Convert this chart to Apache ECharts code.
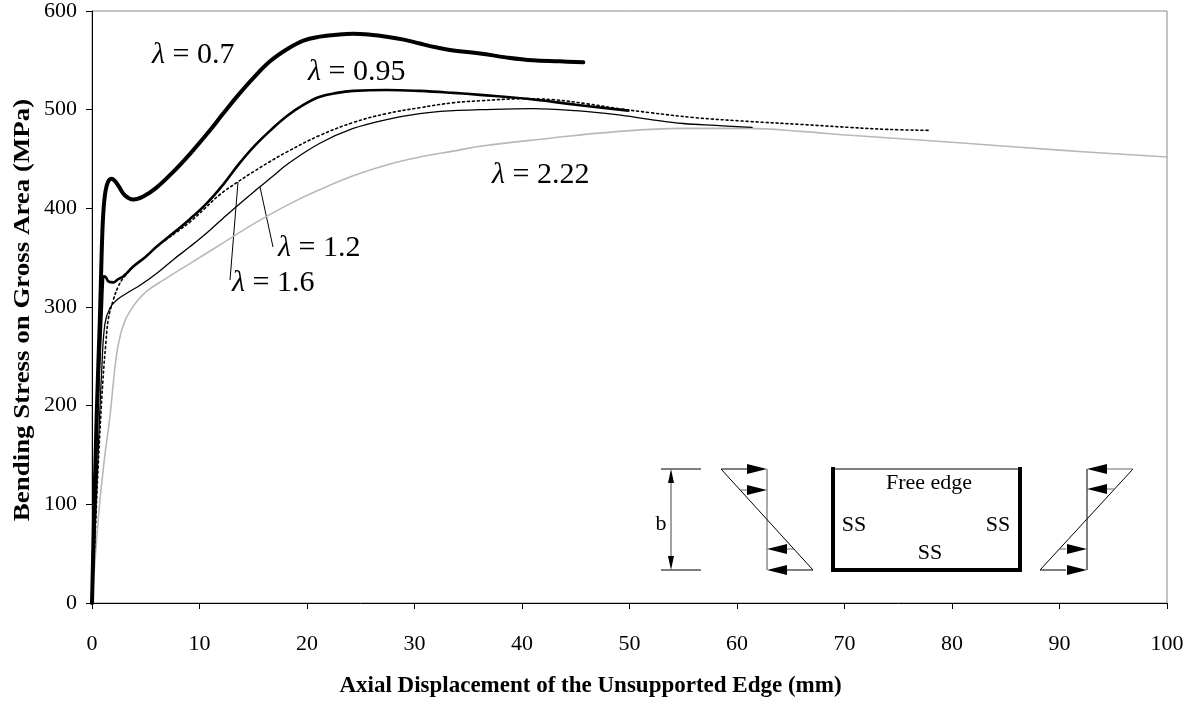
<!DOCTYPE html>
<html>
<head>
<meta charset="utf-8">
<title>Bending Stress vs Axial Displacement</title>
<script src="https://cdn.jsdelivr.net/npm/echarts@6.0.0/dist/echarts.min.js"></script>
<style>
    html, body { margin: 0; padding: 0; background: #fff; }
    #chart { width: 1196px; height: 705px; }
</style>
</head>
<body>
<div id="chart"></div>
<script>
// curve data: [displacement (mm), stress (MPa)]
var lambda070 = [[0,0],[0.43,188],[0.74,290],[0.9,355],[1.05,395],[1.25,417],[1.5,427],[1.83,430],[2.1,428],[2.45,423],[3.07,413],[3.84,409],[4.77,412],[6,421],[7.56,437],[9.1,455],[10.67,475],[12.2,496],[13.46,513],[15,532],[16.56,549],[18.1,561],[19.66,570],[21.2,574],[22.76,576],[24.3,577],[25.9,576],[27.4,574],[29,571],[30.5,567],[32.1,563],[33.6,560],[36.1,557],[38.5,553],[41,550],[43.5,549],[45.7,548]];
var lambda095 = [[0,0],[0.28,122],[0.6,225],[0.9,295],[1.0,322],[1.1,331],[1.3,330],[1.52,326],[1.98,325],[2.4,328],[2.9,331],[3.84,341],[5,351],[6,361],[7.56,375],[9.1,389],[10.67,405],[12.2,424],[13.6,444],[15.1,463],[16.7,480],[18.2,494],[19.7,505],[21.2,513],[22.8,517],[24.3,519],[27.4,520],[30.5,519],[33.6,517],[36.1,515],[40.5,511],[45,505],[49.9,499]];
var lambda120 = [[0,0],[0.3,75],[0.6,160],[0.9,235],[1.2,283],[1.67,299],[2.3,307],[3.23,314],[4.47,322],[6,334],[7.56,348],[9.1,361],[10.67,375],[12.2,390],[13.77,405],[15.3,419],[16.87,433],[18.2,445],[21.2,466],[24.3,481],[27.4,490],[30.5,496],[33.6,499],[36.1,500],[41,501],[45,499],[48.8,495],[52,490],[55,486],[58,484],[61.4,482]];
var lambda160 = [[0,0],[0.3,70],[0.57,138],[1.0,223],[1.3,265],[1.52,288],[1.98,307],[2.45,321],[2.9,329],[3.84,341],[5,351],[6,361],[7,369],[8,377],[9.1,386],[10.5,400],[11.9,414],[13.46,426],[15,437],[16.5,447],[18.1,457],[21.2,474],[24.3,487],[27.4,496],[30.5,502],[33.6,507],[36.1,509],[40,511],[43,510],[46,506],[49,501],[51.9,497],[56,492],[61.2,488],[66,485],[70.5,482],[74,480],[78,479]];
var lambda222 = [[0,0],[0.4,60],[0.74,104],[1.2,150],[1.67,189],[2.0,225],[2.3,253],[2.7,274],[3.1,287],[3.5,295],[4.2,306],[5.1,316],[6.6,327],[9.1,344],[12.2,365],[15.3,386],[18.3,404],[21.2,419],[24.3,433],[27.4,444],[30.5,452],[33.6,458],[36.1,463],[42.6,471],[48,477],[55,481],[61,481],[66,478],[70.5,474],[80,467],[90,459],[100,452]];

var xTicks = [0, 10, 20, 30, 40, 50, 60, 70, 80, 90, 100];
var yTicks = [0, 100, 200, 300, 400, 500, 600];

var serif = '"Liberation Serif", "Times New Roman", serif';

var chart = echarts.init(document.getElementById('chart'), null, {renderer: 'canvas'});

function makeSeries(name, data, color, width, type) {
    return {
        name: name,
        type: 'line',
        data: data,
        symbol: 'none',
        smooth: 0.4,
        clip: true,
        lineStyle: {color: color, width: width, type: type || 'solid', cap: 'round', join: 'round'},
        emphasis: {disabled: true}
    };
}

// small helpers for the inset sketch
function line(x1, y1, x2, y2, w, c) {
    return {
        type: 'line', silent: true,
        shape: {x1: x1, y1: y1, x2: x2, y2: y2},
        style: {stroke: c || '#000', lineWidth: w || 1}
    };
}
function arrowH(tipX, y, dir, len, half) {
    // dir: 1 = points right, -1 = points left
    len = len || 20; half = half || 5;
    return {
        type: 'polygon', silent: true,
        shape: {points: [[tipX, y], [tipX - dir * len, y - half], [tipX - dir * len, y + half]]},
        style: {fill: '#000'}
    };
}
function arrowV(x, tipY, dir, len, half) {
    // dir: 1 = points down, -1 = points up
    len = len || 14; half = half || 3;
    return {
        type: 'polygon', silent: true,
        shape: {points: [[x, tipY], [x - half, tipY - dir * len], [x + half, tipY - dir * len]]},
        style: {fill: '#000'}
    };
}
function label(x, y, txt, size, align) {
    return {
        type: 'text', silent: true, x: x, y: y,
        style: {
            text: txt, fill: '#000', font: size + 'px ' + serif,
            align: align || 'center', verticalAlign: 'middle'
        }
    };
}
function lamLabel(x, y, val) {
    return {
        type: 'text', silent: true, x: x, y: y,
        style: {
            text: '{l|λ} = ' + val,
            fill: '#000', fontFamily: serif, fontSize: 30,
            align: 'left', verticalAlign: 'middle',
            rich: {l: {fontStyle: 'italic', fontFamily: serif, fontSize: 30, fill: '#000'}}
        }
    };
}

var sketch = [
    // dimension b
    line(661, 469, 701, 469), line(661, 570, 701, 570),
    line(671, 482, 671, 557, 1, '#444'),
    arrowV(671, 469, -1), arrowV(671, 570, 1),
    label(661, 524, 'b', 22),
    // left stress block
    line(767, 469, 767, 570, 1, '#555'),
    line(721, 469, 813, 570),
    line(721, 469, 747, 469), arrowH(767, 469, 1),
    line(740, 490, 747, 490, 1, '#666'), arrowH(767, 490, 1),
    line(787, 549, 794, 549, 1, '#666'), arrowH(767, 549, -1),
    line(787, 570, 813, 570), arrowH(767, 570, -1),
    // plate
    line(833, 469, 1020, 469, 1),
    line(833, 467, 833, 572, 4), line(1020, 467, 1020, 572, 4),
    line(831, 570, 1022, 570, 4),
    label(929, 483, 'Free edge', 22),
    label(854, 525, 'SS', 22), label(998, 525, 'SS', 22), label(930, 553, 'SS', 22),
    // right stress block
    line(1087, 469, 1087, 570),
    line(1133, 469, 1040, 570),
    line(1107, 469, 1133, 469, 1, '#666'), arrowH(1087, 469, -1),
    line(1107, 489, 1114, 489, 1, '#666'), arrowH(1087, 489, -1),
    line(1059, 549, 1066, 549, 1, '#666'), arrowH(1087, 549, 1),
    line(1040, 570, 1066, 570), arrowH(1087, 570, 1)
];

var labels = [
    lamLabel(152, 55, '0.7'),
    lamLabel(308, 72, '0.95'),
    lamLabel(278, 248, '1.2'),
    lamLabel(232, 283, '1.6'),
    lamLabel(492, 175, '2.22'),
    // leader lines
    line(273, 247, 260, 187, 1),
    line(230, 280, 238, 182, 1),
    // y axis title, drawn as text so it can be stretched along its length like the original
    {
        type: 'text', silent: true, x: 23, y: 310,
        rotation: Math.PI / 2, scaleX: 1.17,
        style: {
            text: 'Bending Stress on Gross Area (MPa)',
            fill: '#000', font: 'bold 23px ' + serif,
            align: 'center', verticalAlign: 'middle'
        }
    }
];

var option = {
    animation: false,
    backgroundColor: '#fff',
    grid: {
        left: 92, right: 29, top: 11, bottom: 102,
        show: true, borderColor: '#8a8a8a', borderWidth: 1
    },
    xAxis: {
        type: 'value',
        min: xTicks[0], max: xTicks[xTicks.length - 1], interval: 10,
        name: 'Axial Displacement of the Unsupported Edge (mm)',
        nameLocation: 'middle', nameGap: 72,
        nameTextStyle: {fontFamily: serif, fontWeight: 'bold', fontSize: 23, color: '#000', padding: [0, 78, 0, 0]},
        axisLine: {lineStyle: {color: '#000', width: 1}},
        axisTick: {show: true, inside: false, length: 6, lineStyle: {color: '#000'}},
        axisLabel: {fontFamily: serif, fontSize: 22, color: '#000', margin: 30},
        splitLine: {show: false}
    },
    yAxis: {
        type: 'value',
        min: yTicks[0], max: yTicks[yTicks.length - 1], interval: 100,
        axisLine: {show: true, lineStyle: {color: '#000', width: 1}},
        axisTick: {show: true, inside: false, length: 6, lineStyle: {color: '#000'}},
        axisLabel: {fontFamily: serif, fontSize: 22, color: '#000', margin: 15},
        splitLine: {show: false}
    },
    series: [
        makeSeries('λ = 2.22', lambda222, '#b8b8b8', 1.6),
        makeSeries('λ = 1.2', lambda120, '#000', 1.3),
        makeSeries('λ = 1.6', lambda160, '#000', 1.6, [2, 3]),
        makeSeries('λ = 0.95', lambda095, '#000', 2.6),
        makeSeries('λ = 0.7', lambda070, '#000', 4)
    ],
    graphic: sketch.concat(labels)
};
chart.setOption(option);

window.onresize = function () {
    chart.resize();
};
</script>
</body>
</html>
